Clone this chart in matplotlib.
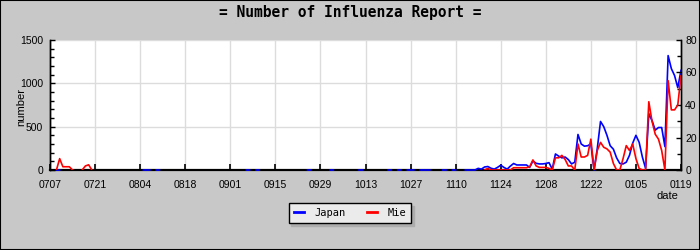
import numpy as np
import pandas as pd
import matplotlib
matplotlib.use('Agg')
import matplotlib.pyplot as plt
import matplotlib.dates as mdates
from matplotlib.ticker import MultipleLocator
from matplotlib.patches import Rectangle

''' Data '''
# daily reports from 2008-07-07 to 2009-01-19, None = no report that day
start_date = '2008-07-07'
n_days = 197
gap = [None] * 14

# Japan (left axis)
japan = ([None, None, 0, 0, None, None, None, None, None, None, None, None, None, None]
         + gap
         + [None, 0, 0, 0, None, 0, 0, None, None, None, None, None, None, None]
         + gap
         + [None, None, None, None, None, 0, 0, None, 0, 0, None, None, None, None]
         + [None, None, None, None, None, None, None, None, None, None, 0, 0, None, None]
         + [None, None, None, 0, 0, None, None, None, None, None, None, None, 0, 0]
         + [None, None, None, None, None, None, None, 0, 0, None, 0, 0, None, 0]
         + [0, 0, None, 0, 0, 0, 0, None, None, None, 0, 0, None, 0]
         + [0, None, None, 0, 0, 0, 0, 19, 10, 35, 40, 20, 10, 30]
         + [55, 30, 10, 45, 75, 58, 58, 58, 58, 30, 105, 77, 70, 70]
         + [75, 85, 10, 185, 160, 140, 150, 120, 70, 90, 410, 300, 275, 280]
         + [300, 0, 250, 560, 500, 400, 280, 240, 140, 75, 70, 90, 170, 310]
         + [400, 320, 150, 20, 650, 570, 460, 490, 490, 270, 1320, 1170, 1090, 950]
         + [1150])

# Mie (right axis)
mie = ([None, None, 0, 7, 2, 2, 2, 0, None, None, 0, 2.5, 3.2, 0]
       + gap * 8
       + [None, None, None, None, None, None, None, None, None, 0, 1, 0, 0, 0]
       + [0, 0, 0, 0, 1.4, 1.4, 1.4, 1.4, 1.4, 2, 6.2, 2.5, 1.6, 1.6]
       + [1.6, 1.0, 0, 7.5, 7.5, 9, 6.5, 2.5, 2.5, 0, 16, 8, 8, 9]
       + [19, 0, 12, 17, 14, 13, 11, 4, 0, 0, 7, 15, 12, 16]
       + [7, 1, 0, 0, 42, 30, 22, 19, 12, 0, 55, 37, 37, 40]
       + [58])

left_ticks = [0, 500, 1000, 1500]
right_ticks = [0, 20, 40, 60, 80]

dates = pd.date_range(start_date, periods=n_days, freq='D')
japan = np.array(japan, dtype=float)
mie = np.array(mie, dtype=float)

''' Style '''
bg = '#C8C8C8'
plt.rcParams['font.family'] = ['Liberation Sans', 'DejaVu Sans']
mono = 'DejaVu Sans Mono'

fig = plt.figure(figsize=(7, 2.5), dpi=100, facecolor=bg)
ax = fig.add_axes([50 / 700, 80 / 250, 631 / 700, 130 / 250])
ax2 = ax.twinx()

''' Lines '''
# zero reports sit on the axis line, so let them draw over it
l1, = ax.plot(dates, japan, color='#0000FF', lw=1.2, zorder=3, clip_on=False)
l2, = ax2.plot(dates, mie, color='#FF0000', lw=1.2, zorder=3)

''' Axes '''
ax.set_xlim(dates[0], dates[-1])
ax.set_ylim(left_ticks[0], left_ticks[-1])
ax2.set_ylim(right_ticks[0], right_ticks[-1])

ax.set_xticks(dates[::14])
ax.xaxis.set_major_formatter(mdates.DateFormatter('%m%d'))
ax.set_yticks(left_ticks)
ax.yaxis.set_minor_locator(MultipleLocator(100))
ax2.set_yticks(right_ticks)
ax2.yaxis.set_minor_locator(MultipleLocator(10))

ax.grid(True, color='#DCDCDC', lw=1, zorder=0)
ax.set_axisbelow(True)

ax.tick_params(axis='both', which='both', direction='in', labelsize=7.5, color='black')
ax.tick_params(axis='x', which='major', length=4, width=1.2, pad=7)
ax.tick_params(axis='y', which='major', length=3.5, width=1, pad=5)
ax.tick_params(axis='y', which='minor', length=3, width=1)
ax2.tick_params(axis='y', which='both', direction='in', labelsize=7.5, pad=3)
ax2.tick_params(axis='y', which='major', length=3.5, width=1)
ax2.tick_params(axis='y', which='minor', length=3, width=1)

for a in (ax, ax2):
    a.spines['top'].set_visible(False)
    a.spines['left'].set_linewidth(1)
    a.spines['right'].set_linewidth(1)
ax.spines['bottom'].set_linewidth(1.6)
ax2.spines['bottom'].set_visible(False)

''' Text '''
fig.text(0.5, 1 - 12 / 250, '= Number of Influenza Report =', ha='center', va='center',
         family=mono, fontweight='bold', fontsize=10.5)
fig.text(21 / 700, 1 - 107 / 250, 'number', rotation=90, ha='center', va='center', fontsize=8)
fig.text(667 / 700, 1 - 196 / 250, 'date', ha='center', va='center', fontsize=8)

''' Legend '''
leg = fig.legend([l1, l2], ['Japan', 'Mie'], loc='center', bbox_to_anchor=(350 / 700, 1 - 213 / 250),
                 ncol=2, fancybox=False, framealpha=1, facecolor='#EBEBEB', edgecolor='black',
                 shadow={'facecolor': '#ADADAD', 'edgecolor': '#ADADAD', 'alpha': 1},
                 prop={'family': mono, 'size': 7.5}, handlelength=1.0, handletextpad=1.0,
                 columnspacing=2.0, borderpad=0.5)
leg.get_frame().set_linewidth(1)
for line in leg.get_lines():
    line.set_linewidth(2)

# outer border of the image
fig.patches.append(Rectangle((0, 0), 1, 1, transform=fig.transFigure, fill=False,
                             edgecolor='black', lw=1.5))

fig.savefig('out.png', dpi=100, facecolor=bg)
